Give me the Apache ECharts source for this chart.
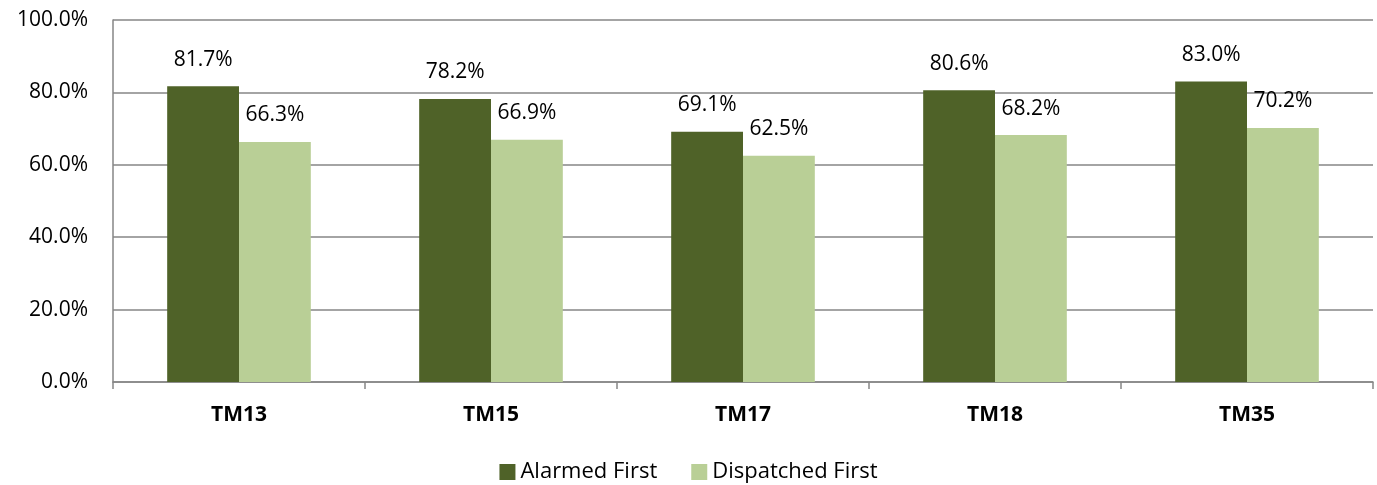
<!DOCTYPE html>
<html>
<head>
<meta charset="utf-8">
<script src="https://cdn.jsdelivr.net/npm/echarts@6/dist/echarts.min.js"></script>
<style>
  html, body { margin: 0; padding: 0; background: #fff; }
  #chart { width: 1377px; height: 485px; }
</style>
</head>
<body>
<div id="chart"></div>
<script>
// categories and values
const categories = ["TM13", "TM15", "TM17", "TM18", "TM35"];
const alarmedFirst = [81.7, 78.2, 69.1, 80.6, 83.0];
const dispatchedFirst = [66.3, 66.9, 62.5, 68.2, 70.2];
const yTicks = [0, 20, 40, 60, 80, 100];

const font = "'Open Sans', 'Liberation Sans', sans-serif";
const grey = "#868686";

const chart = echarts.init(document.getElementById("chart"));
const option = {
  animation: false,
  textStyle: { fontFamily: font },
  grid: { left: 113, right: 4, top: 20, bottom: 103 },
  legend: {
    top: 461,
    left: "center",
    padding: 0,
    itemWidth: 16,
    itemHeight: 16,
    itemGap: 34,
    icon: "rect",
    textStyle: { fontSize: 22, color: "#000", fontFamily: font },
    data: ["Alarmed First", "Dispatched First"],
  },
  xAxis: {
    type: "category",
    data: categories,
    axisLine: { lineStyle: { color: grey, width: 1.5 } },
    axisTick: { show: true, length: 7, lineStyle: { color: grey, width: 1.5 } },
    axisLabel: {
      margin: 23,
      fontSize: 21,
      fontWeight: "bold",
      color: "#000",
      fontFamily: font,
    },
  },
  yAxis: {
    type: "value",
    min: yTicks[0],
    max: yTicks[yTicks.length - 1],
    interval: 20,
    axisLine: { show: true, lineStyle: { color: grey, width: 1.5 } },
    axisTick: { show: false },
    splitLine: { lineStyle: { color: grey, width: 1.5 } },
    axisLabel: {
      margin: 25,
      fontSize: 21,
      color: "#000",
      fontFamily: font,
      formatter: (v) => v.toFixed(1) + "%",
    },
  },
  series: [
    {
      name: "Alarmed First",
      type: "bar",
      data: alarmedFirst,
      barGap: "0%",
      barCategoryGap: "43%",
      itemStyle: { color: "#4F6228" },
      label: {
        show: true,
        position: "top",
        distance: 16,
        fontSize: 21,
        color: "#000",
        fontFamily: font,
        formatter: (p) => p.value.toFixed(1) + "%",
      },
    },
    {
      name: "Dispatched First",
      type: "bar",
      data: dispatchedFirst,
      barGap: "0%",
      barCategoryGap: "43%",
      itemStyle: { color: "#B9CF96" },
      label: {
        show: true,
        position: "top",
        distance: 16,
        fontSize: 21,
        color: "#000",
        fontFamily: font,
        formatter: (p) => p.value.toFixed(1) + "%",
      },
    },
  ],
};
chart.setOption(option);
</script>
</body>
</html>
